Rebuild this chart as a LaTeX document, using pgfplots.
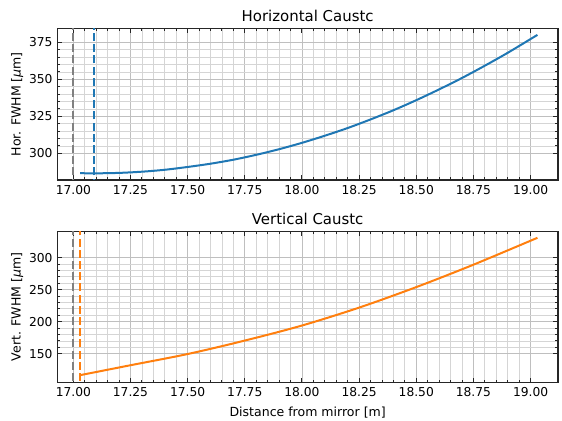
\documentclass[border=0pt]{standalone}
\usepackage{pgfplots}
\pgfplotsset{compat=1.18}
\usepackage{fontspec}
\setmainfont{DejaVu Sans}

\definecolor{tabblue}{HTML}{1F77B4}
\definecolor{taborange}{HTML}{FF7F0E}

% common look of both panels (matplotlib-like, ticks inside on all sides)
\pgfplotsset{
  caustic/.style={
    scale only axis,
    width=375.5pt,
    xmin=16.93, xmax=19.12,
    xtick={17,17.25,17.5,17.75,18,18.25,18.5,18.75,19},
    minor x tick num=4,
    minor y tick num=4,
    tick align=inside,
    tick pos=both,
    major tick length=3.6pt,
    minor tick length=2.1pt,
    tick style={black!85, line width=0.7pt},
    grid=both,
    major grid style={gray!50, line width=0.65pt},
    minor grid style={gray!33, line width=0.6pt},
    axis line style={black!85, line width=0.8pt},
    /pgf/number format/assume math mode=true,
    tick label style={font=\fontsize{9.2}{11}\selectfont},
    xticklabel style={/pgf/number format/fixed, /pgf/number format/fixed zerofill,
      /pgf/number format/precision=2, anchor=north, inner sep=0pt, yshift=-3.8pt},
    yticklabel style={anchor=east, inner sep=0pt, xshift=-3.4pt},
    label style={font=\fontsize{9.4}{11}\selectfont},
    ylabel style={at={([xshift=-25.3pt]axis description cs:0,0.5)}, anchor=south, inner sep=0pt},
    every axis title/.style={at={(axis description cs:0.5,1)}, anchor=base, yshift=5.1pt,
      font=\fontsize{11.2}{13}\selectfont},
  },
  vline/.style={line width=1.5pt, dash pattern=on 6pt off 2.4pt},
}

\begin{document}
\begin{tikzpicture}
\useasboundingbox (0,0) rectangle (421.5pt,315.75pt);

% ---- horizontal caustic ----
\begin{axis}[caustic,
    at={(43pt,180.75pt)}, anchor=south west,
    height=113.6pt,
    ymin=282, ymax=384.3,
    ytick={300,325,350,375},
    title={Horizontal Caustc},
    ylabel={Hor. FWHM [\textit{μ}m]},
  ]
  \addplot[vline, gray] coordinates {(17.0,270) (17.0,400)};
  \addplot[vline, tabblue] coordinates {(17.09,270) (17.09,400)};
  \addplot[tabblue, line width=1.5pt, smooth] coordinates {
    (17.03,286.6) (17.1,286.5) (17.2,286.8) (17.3,287.6) (17.4,288.9)
    (17.5,290.8) (17.6,293.0) (17.7,295.7) (17.8,299.0) (17.9,302.8)
    (18.0,307.1) (18.1,311.9) (18.2,317.1) (18.3,322.9) (18.4,329.1)
    (18.5,335.9) (18.6,343.2) (18.7,350.9) (18.8,359.2) (18.9,367.9)
    (19.0,377.2) (19.03,380.0)
  };
\end{axis}

% ---- vertical caustic ----
\begin{axis}[caustic,
    at={(43pt,29pt)}, anchor=south west,
    height=113pt,
    ymin=105.3, ymax=340.6,
    ytick={150,200,250,300},
    title={Vertical Caustc},
    ylabel={Vert. FWHM [\textit{μ}m]},
    xlabel={Distance from mirror [m]},
    xlabel style={at={(axis description cs:0.5,0)}, anchor=north, inner sep=0pt, yshift=-18.5pt},
  ]
  \addplot[vline, gray] coordinates {(17.0,90) (17.0,360)};
  \addplot[vline, taborange] coordinates {(17.03,90) (17.03,360)};
  \addplot[taborange, line width=1.5pt, smooth] coordinates {
    (17.03,116.5) (17.25,132.0) (17.5,149.5) (17.75,170.5) (18.0,194.0)
    (18.25,222.0) (18.5,254.0) (18.75,289.0) (19.03,331.0)
  };
\end{axis}
\end{tikzpicture}
\end{document}
